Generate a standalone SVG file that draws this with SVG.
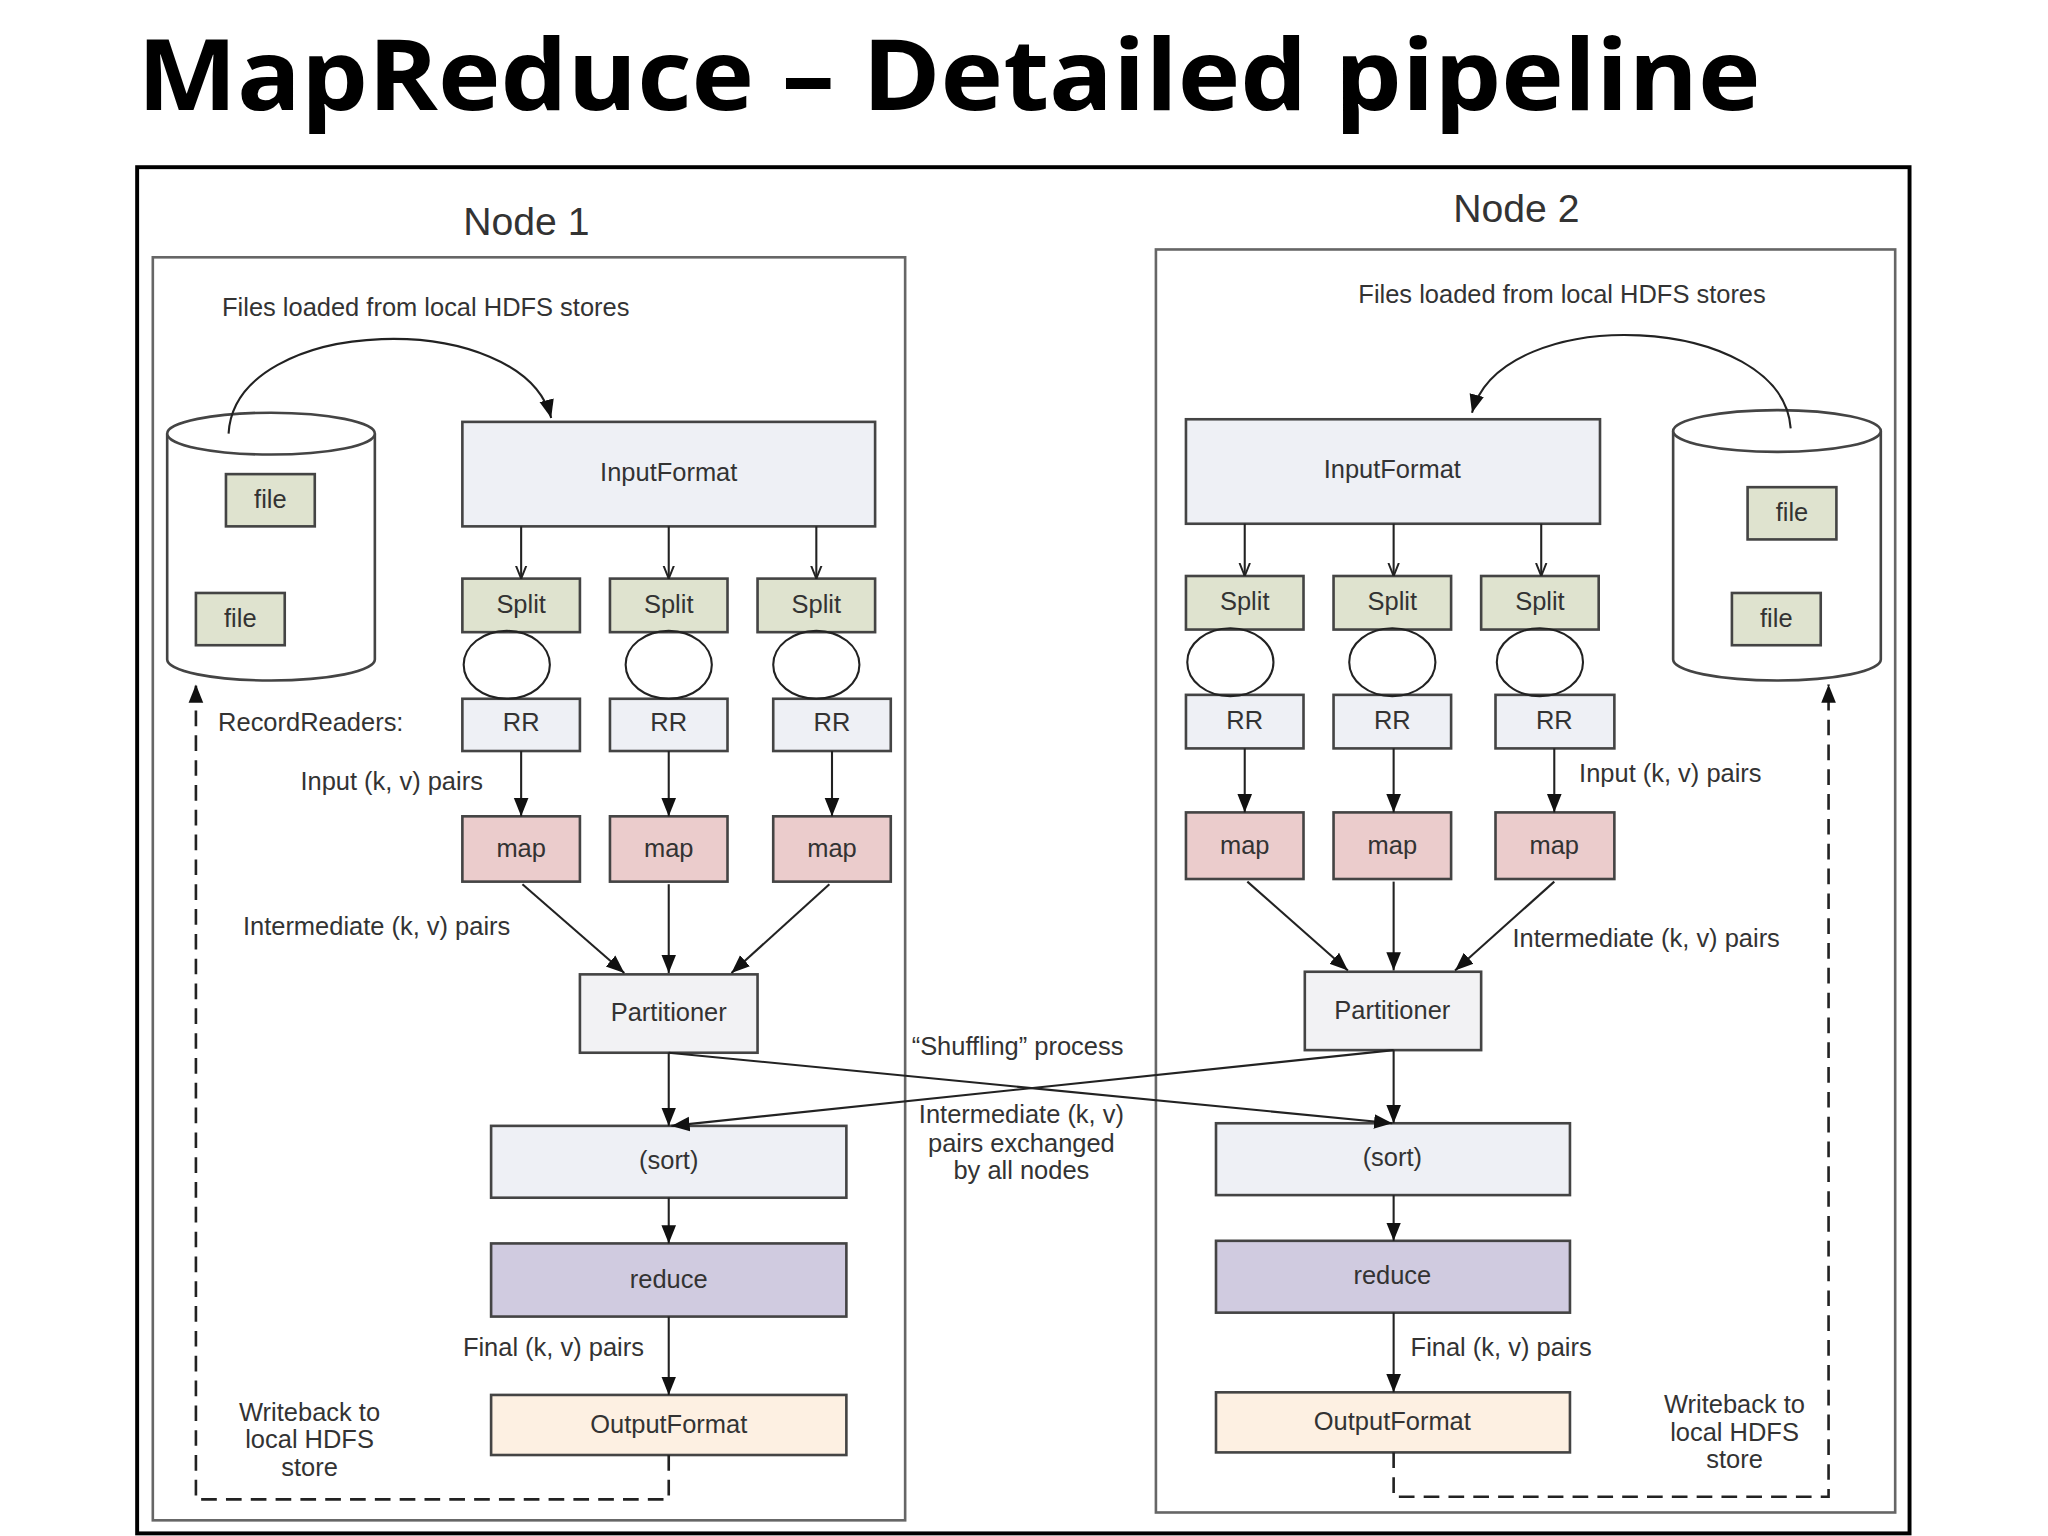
<svg xmlns="http://www.w3.org/2000/svg" width="2048" height="1536" viewBox="0 0 2048 1536">
<style>
text{font-family:"Liberation Sans",Arial,sans-serif;fill:#333}
.t{font-size:19.5px}
.c{text-anchor:middle}
.b{stroke:#444;stroke-width:2}
.l{stroke:#222;stroke-width:1.6;fill:none}
.d{stroke:#222;stroke-width:2;fill:none;stroke-dasharray:12 7}
.in{fill:#eef0f5}.sp{fill:#dfe3cf}.mp{fill:#ebcccc}.pt{fill:#f2f2f4}.rd{fill:#d0cbe0}.of{fill:#fdf0e2}
</style>
<defs>
<marker id="f" viewBox="0 0 10 10" refX="10" refY="5" markerWidth="14" markerHeight="14" orient="auto" markerUnits="userSpaceOnUse"><path d="M0,1 L10,5 L0,9 z" fill="#111"/></marker>
<marker id="o" viewBox="0 0 10 10" refX="10" refY="5" markerWidth="10" markerHeight="10" orient="auto" markerUnits="userSpaceOnUse"><path d="M0,1 L10,5 L0,9" fill="none" stroke="#222" stroke-width="1.5"/></marker>
</defs>
<rect width="2048" height="1536" fill="#fff"/>
<g transform="scale(1.30612)">
<text x="105" y="84" style="font-family:'Open Sans','Liberation Sans',sans-serif;font-weight:bold;font-size:76px;fill:#000" textLength="1243" lengthAdjust="spacingAndGlyphs">MapReduce – Detailed pipeline</text>
<rect x="105" y="128" width="1357" height="1046" fill="none" stroke="#000" stroke-width="3"/>

<g id="node1">
<text x="403" y="180" class="c" style="font-size:30px">Node 1</text>
<rect x="117" y="197" width="576" height="967" fill="none" stroke="#666" stroke-width="2"/>
<text x="170" y="242" class="t">Files loaded from local HDFS stores</text>
</g>
<g id="node2">
<text x="1161" y="170" class="c" style="font-size:30px">Node 2</text>
<rect x="885" y="191" width="566" height="967" fill="none" stroke="#666" stroke-width="2"/>
<text x="1040" y="232" class="t">Files loaded from local HDFS stores</text>
</g>

<g id="hdfs1">
<path d="M128,332 V505 A79.5,16 0 0 0 287,505 V332" fill="#fff" class="b"/>
<ellipse cx="207.5" cy="332" rx="79.5" ry="16" fill="#fff" class="b"/>
<rect x="173" y="363" width="68" height="40" class="b sp"/><text x="207" y="389" class="t c">file</text>
<rect x="150" y="454" width="68" height="40" class="b sp"/><text x="184" y="480" class="t c">file</text>
</g>
<g id="hdfs2">
<path d="M1281,330 V505 A79.5,16 0 0 0 1440,505 V330" fill="#fff" class="b"/>
<ellipse cx="1360.5" cy="330" rx="79.5" ry="16" fill="#fff" class="b"/>
<rect x="1338" y="373" width="68" height="40" class="b sp"/><text x="1372" y="399" class="t c">file</text>
<rect x="1326" y="454" width="68" height="40" class="b sp"/><text x="1360" y="480" class="t c">file</text>
</g>

<g id="n1boxes">
<rect x="354" y="323" width="316" height="80" class="b in"/><text x="512" y="368" class="t c">InputFormat</text>
<rect x="354" y="443" width="90" height="41" class="b sp"/><text x="399" y="469" class="t c">Split</text>
<rect x="467" y="443" width="90" height="41" class="b sp"/><text x="512" y="469" class="t c">Split</text>
<rect x="580" y="443" width="90" height="41" class="b sp"/><text x="625" y="469" class="t c">Split</text>
<rect x="354" y="535" width="90" height="40" class="b in"/><text x="399" y="560" class="t c">RR</text>
<rect x="467" y="535" width="90" height="40" class="b in"/><text x="512" y="560" class="t c">RR</text>
<rect x="592" y="535" width="90" height="40" class="b in"/><text x="637" y="560" class="t c">RR</text>
<rect x="354" y="625" width="90" height="50" class="b mp"/><text x="399" y="656" class="t c">map</text>
<rect x="467" y="625" width="90" height="50" class="b mp"/><text x="512" y="656" class="t c">map</text>
<rect x="592" y="625" width="90" height="50" class="b mp"/><text x="637" y="656" class="t c">map</text>
<rect x="444" y="746" width="136" height="60" class="b pt"/><text x="512" y="782" class="t c">Partitioner</text>
<rect x="376" y="862" width="272" height="55" class="b in"/><text x="512" y="895" class="t c">(sort)</text>
<rect x="376" y="952" width="272" height="56" class="b rd"/><text x="512" y="986" class="t c">reduce</text>
<rect x="376" y="1068" width="272" height="46" class="b of"/><text x="512" y="1097" class="t c">OutputFormat</text>
</g>
<g id="n2boxes">
<rect x="908" y="321" width="317" height="80" class="b in"/><text x="1066" y="366" class="t c">InputFormat</text>
<rect x="908" y="441" width="90" height="41" class="b sp"/><text x="953" y="467" class="t c">Split</text>
<rect x="1021" y="441" width="90" height="41" class="b sp"/><text x="1066" y="467" class="t c">Split</text>
<rect x="1134" y="441" width="90" height="41" class="b sp"/><text x="1179" y="467" class="t c">Split</text>
<rect x="908" y="532" width="90" height="41" class="b in"/><text x="953" y="558" class="t c">RR</text>
<rect x="1021" y="532" width="90" height="41" class="b in"/><text x="1066" y="558" class="t c">RR</text>
<rect x="1145" y="532" width="91" height="41" class="b in"/><text x="1190" y="558" class="t c">RR</text>
<rect x="908" y="622" width="90" height="51" class="b mp"/><text x="953" y="654" class="t c">map</text>
<rect x="1021" y="622" width="90" height="51" class="b mp"/><text x="1066" y="654" class="t c">map</text>
<rect x="1145" y="622" width="91" height="51" class="b mp"/><text x="1190" y="654" class="t c">map</text>
<rect x="999" y="744" width="135" height="60" class="b pt"/><text x="1066" y="780" class="t c">Partitioner</text>
<rect x="931" y="860" width="271" height="55" class="b in"/><text x="1066" y="893" class="t c">(sort)</text>
<rect x="931" y="950" width="271" height="55" class="b rd"/><text x="1066" y="983" class="t c">reduce</text>
<rect x="931" y="1066" width="271" height="46" class="b of"/><text x="1066" y="1095" class="t c">OutputFormat</text>
</g>

<g id="labels">
<text x="167" y="560" class="t">RecordReaders:</text>
<text x="230" y="605" class="t">Input (k, v) pairs</text>
<text x="186" y="716" class="t">Intermediate (k, v) pairs</text>
<text x="493" y="1038" class="t" text-anchor="end">Final (k, v) pairs</text>
<text x="237" y="1088" class="t c">Writeback to</text><text x="237" y="1109" class="t c">local HDFS</text><text x="237" y="1130" class="t c">store</text>
<text x="1209" y="599" class="t">Input (k, v) pairs</text>
<text x="1158" y="725" class="t">Intermediate (k, v) pairs</text>
<text x="1080" y="1038" class="t">Final (k, v) pairs</text>
<text x="1328" y="1082" class="t c">Writeback to</text><text x="1328" y="1103" class="t c">local HDFS</text><text x="1328" y="1124" class="t c">store</text>
<text x="698" y="808" class="t">“Shuffling” process</text>
<text x="782" y="860" class="t c">Intermediate (k, v)</text><text x="782" y="882" class="t c">pairs exchanged</text><text x="782" y="903" class="t c">by all nodes</text>
</g>

<g id="connectors">
<path class="l" d="M175,332 C180,240 400,235 422,320" marker-end="url(#f)"/>
<path class="l" d="M1371,328 C1365,240 1150,230 1127,316" marker-end="url(#f)"/>
<path class="l" d="M399,403V443" marker-end="url(#o)"/><path class="l" d="M512,403V443" marker-end="url(#o)"/><path class="l" d="M625,403V443" marker-end="url(#o)"/>
<path class="l" d="M953,401V441" marker-end="url(#o)"/><path class="l" d="M1067,401V441" marker-end="url(#o)"/><path class="l" d="M1180,401V441" marker-end="url(#o)"/>
<ellipse class="l" cx="388" cy="509" rx="33" ry="26"/><ellipse class="l" cx="512" cy="509" rx="33" ry="26"/><ellipse class="l" cx="625" cy="509" rx="33" ry="26"/>
<ellipse class="l" cx="942" cy="507" rx="33" ry="26"/><ellipse class="l" cx="1066" cy="507" rx="33" ry="26"/><ellipse class="l" cx="1179" cy="507" rx="33" ry="26"/>
<path class="l" d="M399,575V625" marker-end="url(#f)"/><path class="l" d="M512,575V625" marker-end="url(#f)"/><path class="l" d="M637,575V625" marker-end="url(#f)"/>
<path class="l" d="M953,573V622" marker-end="url(#f)"/><path class="l" d="M1067,573V622" marker-end="url(#f)"/><path class="l" d="M1190,573V622" marker-end="url(#f)"/>
<path class="l" d="M400,677L478,745" marker-end="url(#f)"/><path class="l" d="M512,677V745" marker-end="url(#f)"/><path class="l" d="M635,677L560,745" marker-end="url(#f)"/>
<path class="l" d="M955,675L1032,743" marker-end="url(#f)"/><path class="l" d="M1067,675V743" marker-end="url(#f)"/><path class="l" d="M1190,675L1114,743" marker-end="url(#f)"/>
<path class="l" d="M512,806V862" marker-end="url(#f)"/><path class="l" d="M512,917V952" marker-end="url(#f)"/><path class="l" d="M512,1008V1068" marker-end="url(#f)"/>
<path class="l" d="M1067,804V860" marker-end="url(#f)"/><path class="l" d="M1067,915V950" marker-end="url(#f)"/><path class="l" d="M1067,1005V1066" marker-end="url(#f)"/>
<path class="l" d="M512,806L1066,860" marker-end="url(#f)"/><path class="l" d="M1067,804L514,862" marker-end="url(#f)"/>
<path class="d" d="M512,1114V1148H150V524" marker-end="url(#f)"/>
<path class="d" d="M1067,1112V1146H1400V524" marker-end="url(#f)"/>
</g>
</g>
</svg>
